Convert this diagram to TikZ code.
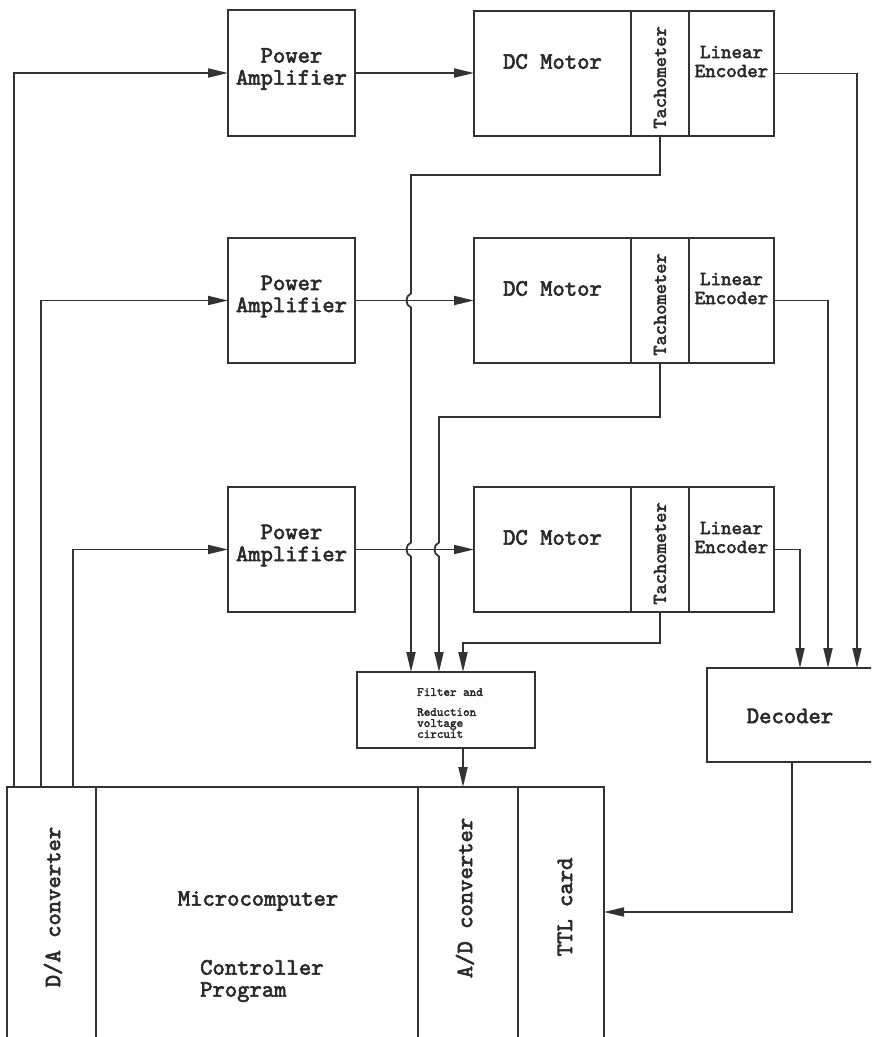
\documentclass[tikz,border=0pt]{standalone}
\usepackage{fontspec}
\setmonofont{lmmono10-regular.otf}[AutoFakeBold=2.6]
\usetikzlibrary{arrows.meta}
\definecolor{ink}{HTML}{333333}
\definecolor{txt}{HTML}{2A2A2A}
\begin{document}
\begin{tikzpicture}[x=1pt,y=-1pt,
  box/.style={draw=ink,line width=1.8pt,inner sep=0pt,outer sep=0pt,rectangle},
  wire/.style={draw=ink,line width=1.8pt},
  arr/.style={-{Triangle[length=20pt,width=9pt]}},
  big/.style={text=txt,inner sep=0pt,align=center,font=\ttfamily\bfseries\fontsize{23.5}{22}\selectfont},
  mid/.style={text=txt,inner sep=0pt,align=center,font=\ttfamily\bfseries\fontsize{20}{19}\selectfont},
  tiny/.style={text=txt,inner sep=0pt,align=left,font=\ttfamily\bfseries\fontsize{12.5}{11}\selectfont}]
\useasboundingbox (0,0) rectangle (871,1037);
\fill[white] (0,0) rectangle (871,1037);
\clip (0,0) rectangle (871,1037);

% power amplifiers
\node[box,minimum width=127pt,minimum height=126pt] (pa1) at (291.5,73) {};
\node[box,minimum width=127pt,minimum height=125pt] (pa2) at (291.5,300.5) {};
\node[box,minimum width=127pt,minimum height=125pt] (pa3) at (291.5,549.5) {};
\node[big] (pa1t) at (291.5,69) {Power\\Amplifier};
\node[big] (pa2t) at (291.5,296.5) {Power\\Amplifier};
\node[big] (pa3t) at (291.5,545.5) {Power\\Amplifier};

% motors, tachometers, encoders
\foreach \r/\y in {1/73.5,2/300.5,3/549.5}{
  \node[box,minimum width=157pt,minimum height=125pt] (dc\r) at (552.5,\y) {};
  \node[box,minimum width=58pt,minimum height=125pt] (tach\r) at (660,\y) {};
  \node[box,minimum width=85pt,minimum height=125pt] (enc\r) at (731.5,\y) {};
  \node[big] (dc\r t) at (552.5,\y-12) {DC Motor};
  \node[mid,rotate=90,font=\ttfamily\bfseries\fontsize{19.5}{19}\selectfont] (tach\r t) at (660,\y+4) {Tachometer};
  \node[mid] (enc\r t) at (731.5,\y-12) {Linear\\Encoder};
}

% filter
\node[box,minimum width=178pt,minimum height=76pt] (filt) at (446,710) {};
\node[tiny,anchor=north west] (filtt) at (417,688) {Filter and\\[9pt]Reduction\\voltage\\circuit};

% decoder
\node[box,minimum width=173pt,minimum height=94pt] (dec) at (793.5,715) {};
\node[big] (dect) at (790,716) {Decoder};

% microcomputer
\node[box,minimum width=89pt,minimum height=258pt] (da) at (51.5,916) {};
\node[box,minimum width=322pt,minimum height=258pt] (mc) at (257,916) {};
\node[box,minimum width=100pt,minimum height=258pt] (ad) at (468,916) {};
\node[box,minimum width=86pt,minimum height=258pt] (ttl) at (561,916) {};
\node[big,rotate=90] (dat) at (53,907) {D/A converter};
\node[big,rotate=90] (adt) at (465,898) {A/D converter};
\node[big,rotate=90] (ttlt) at (565,907) {TTL card};
\node[big] (mct) at (258,901) {Microcomputer};
\node[big,align=left,anchor=west] (cpt) at (200,981) {Controller\\Program};

% coordinates
\coordinate (o1) at (14,787);
\coordinate (o2) at (41,787);
\coordinate (o3) at (73,787);
\coordinate (f1) at (411,672);
\coordinate (f2) at (439,672);
\coordinate (f3) at (463,672);
\coordinate (fo) at (463,748);
\coordinate (ai) at (463,787);
\coordinate (d1) at (857,668);
\coordinate (d2) at (828,668);
\coordinate (d3) at (800,668);
\coordinate (decout) at (792,762);
\coordinate (tin) at (604,912);

% D/A outputs to amplifiers
\draw[wire,arr] (o1) |- (pa1.west);
\draw[wire,arr] (o2) |- (pa2.west);
\draw[wire,arr] (o3) |- (pa3.west);

% amplifiers to motors
\draw[wire,arr] (pa1.east) -- (pa1.east -| dc1.west);
\draw[wire,arr] (pa2.east) -- (pa2.east -| dc2.west);
\draw[wire,arr] (pa3.east) -- (pa3.east -| dc3.west);

% tachometers to filter
\draw[wire,arr] (tach1.south) -- (660,175) -- (411,175) -- (411,293.5)
  .. controls (405,295.5) and (405,305.5) .. (411,307.5) -- (411,542.5)
  .. controls (405,544.5) and (405,554.5) .. (411,556.5) -- (f1);
\draw[wire,arr] (tach2.south) -- (660,417) -- (439,417) -- (439,542.5)
  .. controls (433,544.5) and (433,554.5) .. (439,556.5) -- (f2);
\draw[wire,arr] (tach3.south) -- (660,643) -- (463,643) -- (f3);

% filter to A/D
\draw[wire,arr] (fo) -- (ai);

% encoders to decoder
\draw[wire,arr] (enc1.east) -| (d1);
\draw[wire,arr] (enc2.east) -| (d2);
\draw[wire,arr] (enc3.east) -| (d3);

% decoder to TTL card
\draw[wire,arr] (decout) |- (tin);
\end{tikzpicture}
\end{document}
